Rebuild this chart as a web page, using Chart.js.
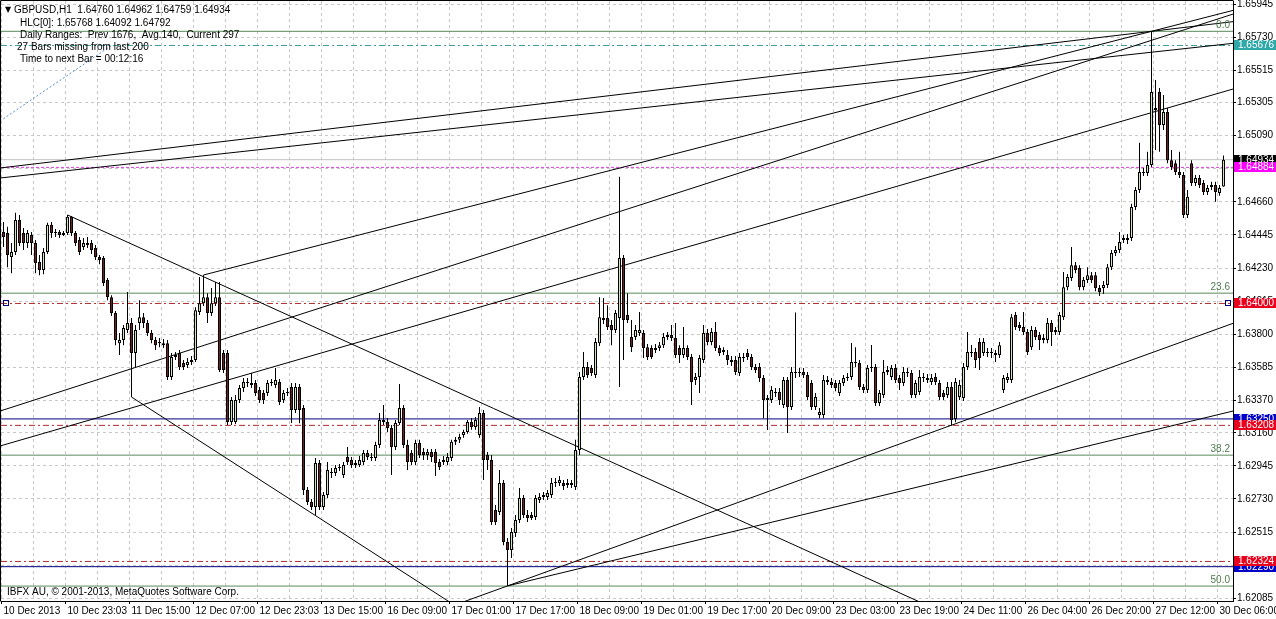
<!DOCTYPE html>
<html>
<head>
<meta charset="utf-8">
<script src="https://cdn.jsdelivr.net/npm/chart.js@4.4.0/dist/chart.umd.min.js"></script>
<style>
  html, body { margin: 0; padding: 0; background: #fff; overflow: hidden; }
  #wrap { width: 1276px; height: 619px; }
</style>
</head>
<body>
<div id="wrap"><canvas id="gbp" width="1276" height="619"></canvas></div>
<script>
// GBPUSD H1, one value per bar
const timeLabels = ["10 Dec 2013", "10 Dec 23:03", "11 Dec 15:00", "12 Dec 07:00", "12 Dec 23:03",
  "13 Dec 15:00", "16 Dec 09:00", "17 Dec 01:00", "17 Dec 17:00", "18 Dec 09:00", "19 Dec 01:00",
  "19 Dec 17:00", "20 Dec 09:00", "23 Dec 03:00", "23 Dec 19:00", "24 Dec 11:00", "26 Dec 04:00",
  "26 Dec 20:00", "27 Dec 12:00", "30 Dec 06:00"];

const opens = [
  1.64465,1.64458,1.64302,1.64334,1.64543,1.64458,1.64393,1.64445,1.64393,1.64269,
  1.64217,1.64334,1.64511,1.64458,1.64465,1.64445,1.64458,1.64563,1.64458,1.64413,
  1.64367,1.64393,1.64393,1.64360,1.64302,1.64296,1.64152,1.64041,1.63938,1.63742,
  1.63762,1.63828,1.63873,1.63678,1.63873,1.63911,1.63873,1.63808,1.63762,1.63742,
  1.63742,1.63742,1.63522,1.63652,1.63678,1.63613,1.63600,1.63619,1.63632,1.63944,
  1.64002,1.64041,1.63938,1.64002,1.64041,1.63678,1.63678,1.63230,1.63230,1.63373,
  1.63450,1.63483,1.63483,1.63483,1.63437,1.63418,1.63418,1.63490,1.63470,1.63490,
  1.63373,1.63418,1.63457,1.63308,1.63457,1.63321,1.62788,1.62710,1.62678,1.62963,
  1.62678,1.62755,1.62905,1.62899,1.62931,1.62886,1.63003,1.62983,1.62963,1.62950,
  1.62970,1.63029,1.62996,1.62996,1.63081,1.63230,1.63230,1.63191,1.63068,1.63224,
  1.63321,1.63081,1.63029,1.62970,1.63094,1.63035,1.63016,1.63035,1.63035,1.62970,
  1.62970,1.62970,1.62996,1.63101,1.63114,1.63146,1.63165,1.63230,1.63198,1.63146,
  1.63289,1.63016,1.62983,1.62658,1.62645,1.62834,1.62450,1.62398,1.62509,1.62593,
  1.62736,1.62625,1.62625,1.62612,1.62723,1.62743,1.62743,1.62755,1.62834,1.62834,
  1.62834,1.62821,1.62834,1.62808,1.63048,1.63522,1.63587,1.63580,1.63535,1.63742,
  1.63892,1.63905,1.63860,1.63828,1.63905,1.64295,1.63925,1.63782,1.63782,1.63808,
  1.63808,1.63716,1.63711,1.63698,1.63711,1.63729,1.63782,1.63795,1.63775,1.63711,
  1.63665,1.63711,1.63652,1.63503,1.63522,1.63632,1.63808,1.63749,1.63815,1.63711,
  1.63685,1.63665,1.63619,1.63632,1.63548,1.63652,1.63678,1.63652,1.63587,1.63587,
  1.63516,1.63373,1.63373,1.63424,1.63424,1.63340,1.63503,1.63327,1.63548,1.63548,
  1.63555,1.63535,1.63483,1.63327,1.63275,1.63275,1.63503,1.63490,1.63483,1.63418,
  1.63483,1.63516,1.63522,1.63619,1.63613,1.63457,1.63437,1.63580,1.63587,1.63353,
  1.63406,1.63555,1.63522,1.63580,1.63516,1.63483,1.63555,1.63548,1.63406,1.63424,
  1.63516,1.63516,1.63490,1.63522,1.63483,1.63418,1.63406,1.63457,1.63249,1.63393,
  1.63386,1.63587,1.63678,1.63685,1.63749,1.63678,1.63685,1.63685,1.63678,1.63665,
  1.63437,1.63503,1.63503,1.63925,1.63860,1.63847,1.63815,1.63716,1.63828,1.63795,
  1.63762,1.63762,1.63873,1.63815,1.63815,1.63911,1.64106,1.64165,1.64249,1.64230,
  1.64106,1.64152,1.64184,1.64184,1.64100,1.64100,1.64120,1.64236,1.64328,1.64347,
  1.64413,1.64425,1.64425,1.64627,1.64737,1.64854,1.64848,1.64900,1.65270,1.65374,
  1.65159,1.65244,1.64931,1.64911,1.64854,1.64835,1.64574,1.64911,1.64782,1.64815,
  1.64782,1.64724,1.64757,1.64770,1.64718,1.64760];

const highs = [
  1.64530,1.64498,1.64393,1.64589,1.64575,1.64491,1.64478,1.64465,1.64413,1.64315,
  1.64360,1.64524,1.64530,1.64484,1.64478,1.64471,1.64575,1.64569,1.64471,1.64432,
  1.64425,1.64432,1.64413,1.64380,1.64315,1.64309,1.64165,1.64054,1.63951,1.63808,
  1.63860,1.64074,1.63906,1.63860,1.64021,1.63938,1.63893,1.63828,1.63782,1.63775,
  1.63769,1.63762,1.63678,1.63685,1.63698,1.63632,1.63645,1.63658,1.63976,1.64172,
  1.64185,1.64067,1.64100,1.64139,1.64139,1.63698,1.63698,1.63393,1.63406,1.63470,
  1.63516,1.63516,1.63548,1.63503,1.63457,1.63437,1.63503,1.63509,1.63581,1.63509,
  1.63437,1.63450,1.63483,1.63483,1.63476,1.63341,1.62808,1.62729,1.62996,1.62983,
  1.62775,1.62970,1.62931,1.62950,1.62957,1.62970,1.63068,1.63003,1.62983,1.63009,
  1.63048,1.63048,1.63029,1.63101,1.63288,1.63341,1.63256,1.63211,1.63243,1.63476,
  1.63341,1.63114,1.63048,1.63114,1.63114,1.63061,1.63055,1.63055,1.63055,1.62989,
  1.63009,1.63029,1.63114,1.63133,1.63153,1.63179,1.63243,1.63256,1.63263,1.63328,
  1.63308,1.63035,1.63016,1.62690,1.62918,1.62853,1.62476,1.62541,1.62625,1.62801,
  1.62755,1.62658,1.62645,1.62755,1.62769,1.62775,1.62788,1.62866,1.62866,1.62879,
  1.62853,1.62860,1.62853,1.63114,1.63555,1.63685,1.63619,1.63600,1.63775,1.64041,
  1.64035,1.63989,1.63892,1.63957,1.64823,1.64315,1.64067,1.63892,1.63860,1.63944,
  1.63828,1.63736,1.63729,1.63736,1.63749,1.63808,1.63815,1.63860,1.63873,1.63729,
  1.63847,1.63729,1.63672,1.63548,1.63665,1.63860,1.63834,1.63841,1.63880,1.63729,
  1.63716,1.63698,1.63658,1.63658,1.63678,1.63678,1.63704,1.63672,1.63606,1.63613,
  1.63535,1.63406,1.63464,1.63450,1.63450,1.63522,1.63522,1.63587,1.63941,1.63581,
  1.63581,1.63555,1.63503,1.63418,1.63321,1.63535,1.63529,1.63516,1.63503,1.63503,
  1.63535,1.63548,1.63743,1.63716,1.63632,1.63476,1.63600,1.63730,1.63606,1.63437,
  1.63632,1.63593,1.63600,1.63606,1.63535,1.63587,1.63580,1.63568,1.63503,1.63568,
  1.63548,1.63542,1.63542,1.63548,1.63503,1.63437,1.63490,1.63490,1.63516,1.63503,
  1.63613,1.63815,1.63730,1.63711,1.63775,1.63775,1.63711,1.63711,1.63698,1.63749,
  1.63535,1.63548,1.63931,1.63944,1.63880,1.63944,1.63834,1.63854,1.63847,1.63815,
  1.63802,1.63905,1.63892,1.63847,1.63944,1.64204,1.64191,1.64367,1.64269,1.64249,
  1.64172,1.64236,1.64204,1.64204,1.64120,1.64146,1.64256,1.64347,1.64373,1.64465,
  1.64445,1.64452,1.64647,1.64757,1.65044,1.64880,1.64985,1.65768,1.65452,1.65400,
  1.65354,1.65270,1.64997,1.64931,1.64985,1.64854,1.64737,1.64931,1.64835,1.64835,
  1.64802,1.64770,1.64790,1.64790,1.64770,1.64962];

const lows = [
  1.64367,1.64236,1.64197,1.64315,1.64373,1.64347,1.64360,1.64315,1.64197,1.64184,
  1.64190,1.64321,1.64425,1.64432,1.64425,1.64439,1.64445,1.64439,1.64373,1.64315,
  1.64347,1.64360,1.64321,1.64282,1.64255,1.64113,1.64021,1.63918,1.63729,1.63665,
  1.63729,1.63808,1.63392,1.63587,1.63828,1.63841,1.63788,1.63742,1.63698,1.63716,
  1.63711,1.63503,1.63503,1.63632,1.63568,1.63568,1.63580,1.63600,1.63619,1.63925,
  1.63983,1.63873,1.63918,1.63983,1.63555,1.63548,1.63211,1.63211,1.63217,1.63353,
  1.63424,1.63457,1.63450,1.63399,1.63353,1.63347,1.63399,1.63464,1.63450,1.63340,
  1.63353,1.63399,1.63224,1.63289,1.63222,1.62755,1.62690,1.62658,1.62625,1.62658,
  1.62658,1.62736,1.62866,1.62879,1.62912,1.62866,1.62950,1.62931,1.62931,1.62937,
  1.62950,1.62983,1.62977,1.62977,1.63061,1.63211,1.63165,1.62886,1.63048,1.63211,
  1.63061,1.62918,1.62950,1.62950,1.62996,1.62983,1.62983,1.62970,1.62879,1.62918,
  1.62950,1.62950,1.62977,1.63081,1.63094,1.63127,1.63153,1.63179,1.63179,1.63127,
  1.62853,1.62918,1.62560,1.62560,1.62625,1.62430,1.62165,1.62346,1.62483,1.62573,
  1.62606,1.62580,1.62593,1.62593,1.62703,1.62723,1.62723,1.62736,1.62808,1.62814,
  1.62788,1.62801,1.62801,1.62788,1.63016,1.63503,1.63516,1.63529,1.63516,1.63723,
  1.63866,1.63828,1.63729,1.63808,1.63457,1.63632,1.63873,1.63685,1.63762,1.63788,
  1.63645,1.63632,1.63639,1.63678,1.63691,1.63711,1.63762,1.63756,1.63645,1.63613,
  1.63645,1.63632,1.63340,1.63470,1.63418,1.63613,1.63729,1.63729,1.63691,1.63658,
  1.63665,1.63600,1.63593,1.63535,1.63529,1.63619,1.63632,1.63568,1.63548,1.63490,
  1.63255,1.63178,1.63353,1.63393,1.63340,1.63321,1.63159,1.63308,1.63516,1.63522,
  1.63516,1.63373,1.63308,1.63308,1.63255,1.63255,1.63470,1.63450,1.63430,1.63399,
  1.63464,1.63496,1.63503,1.63587,1.63437,1.63418,1.63418,1.63555,1.63334,1.63334,
  1.63386,1.63535,1.63503,1.63483,1.63437,1.63464,1.63522,1.63386,1.63386,1.63406,
  1.63490,1.63483,1.63470,1.63470,1.63373,1.63373,1.63386,1.63209,1.63229,1.63373,
  1.63366,1.63568,1.63652,1.63580,1.63568,1.63658,1.63652,1.63645,1.63619,1.63645,
  1.63418,1.63483,1.63483,1.63828,1.63821,1.63795,1.63665,1.63698,1.63762,1.63698,
  1.63742,1.63742,1.63723,1.63795,1.63795,1.63892,1.64086,1.64146,1.64197,1.64086,
  1.64086,1.64133,1.64133,1.64080,1.64048,1.64061,1.64100,1.64217,1.64308,1.64328,
  1.64393,1.64386,1.64405,1.64608,1.64718,1.64828,1.64828,1.64887,1.64997,1.64985,
  1.65127,1.64911,1.64867,1.64835,1.64815,1.64555,1.64555,1.64763,1.64763,1.64750,
  1.64705,1.64705,1.64737,1.64660,1.64699,1.64759];

const closes = [
  1.64432,1.64315,1.64334,1.64543,1.64393,1.64393,1.64458,1.64393,1.64262,1.64217,
  1.64334,1.64511,1.64458,1.64465,1.64445,1.64458,1.64563,1.64458,1.64393,1.64334,
  1.64393,1.64380,1.64347,1.64302,1.64282,1.64133,1.64041,1.63938,1.63762,1.63762,
  1.63841,1.63873,1.63678,1.63828,1.63911,1.63873,1.63808,1.63762,1.63729,1.63749,
  1.63729,1.63522,1.63652,1.63665,1.63587,1.63587,1.63619,1.63632,1.63956,1.64002,
  1.64041,1.63938,1.64002,1.64041,1.63568,1.63568,1.63230,1.63373,1.63373,1.63450,
  1.63490,1.63490,1.63470,1.63418,1.63373,1.63373,1.63483,1.63483,1.63503,1.63360,
  1.63418,1.63424,1.63308,1.63457,1.63308,1.62788,1.62710,1.62678,1.62963,1.62678,
  1.62755,1.62918,1.62899,1.62931,1.62937,1.62950,1.62970,1.62950,1.62950,1.62983,
  1.63029,1.63003,1.63003,1.63081,1.63243,1.63243,1.63191,1.63068,1.63224,1.63321,
  1.63081,1.62970,1.62970,1.63094,1.63016,1.63016,1.63035,1.63003,1.62963,1.62937,
  1.62983,1.63003,1.63101,1.63114,1.63133,1.63165,1.63230,1.63198,1.63243,1.63289,
  1.62983,1.62983,1.62580,1.62580,1.62834,1.62450,1.62398,1.62515,1.62593,1.62736,
  1.62625,1.62606,1.62606,1.62736,1.62743,1.62755,1.62769,1.62834,1.62840,1.62853,
  1.62814,1.62834,1.62821,1.63048,1.63522,1.63587,1.63535,1.63548,1.63749,1.63911,
  1.63905,1.63847,1.63828,1.63938,1.64295,1.63892,1.63892,1.63716,1.63828,1.63828,
  1.63711,1.63652,1.63652,1.63711,1.63729,1.63782,1.63795,1.63775,1.63665,1.63665,
  1.63711,1.63652,1.63490,1.63522,1.63645,1.63808,1.63749,1.63815,1.63711,1.63678,
  1.63698,1.63632,1.63632,1.63555,1.63652,1.63645,1.63652,1.63587,1.63568,1.63516,
  1.63373,1.63386,1.63437,1.63418,1.63373,1.63503,1.63327,1.63555,1.63555,1.63555,
  1.63535,1.63393,1.63327,1.63393,1.63295,1.63503,1.63490,1.63470,1.63450,1.63483,
  1.63516,1.63522,1.63619,1.63613,1.63457,1.63437,1.63580,1.63587,1.63353,1.63418,
  1.63555,1.63568,1.63580,1.63503,1.63483,1.63555,1.63548,1.63406,1.63483,1.63522,
  1.63522,1.63503,1.63516,1.63490,1.63393,1.63393,1.63457,1.63243,1.63490,1.63470,
  1.63587,1.63685,1.63685,1.63632,1.63645,1.63749,1.63678,1.63678,1.63665,1.63729,
  1.63516,1.63522,1.63911,1.63847,1.63841,1.63815,1.63685,1.63828,1.63782,1.63762,
  1.63775,1.63873,1.63815,1.63828,1.63925,1.64106,1.64172,1.64249,1.64217,1.64106,
  1.64152,1.64184,1.64152,1.64100,1.64074,1.64120,1.64236,1.64328,1.64347,1.64399,
  1.64425,1.64413,1.64627,1.64737,1.64854,1.64848,1.64900,1.65374,1.65257,1.65159,
  1.65244,1.64931,1.64887,1.64854,1.64835,1.64574,1.64693,1.64782,1.64815,1.64770,
  1.64724,1.64750,1.64770,1.64724,1.64750,1.64934];

// price axis labels
const yTicks = [1.65945, 1.65730, 1.65515, 1.65305, 1.65090, 1.64875, 1.64660, 1.64445, 1.64230,
  1.64015, 1.63800, 1.63585, 1.63370, 1.63160, 1.62945, 1.62730, 1.62515, 1.62300, 1.62085];

// fibonacci retracement
const fibHigh = 1.65768;
const fibLow = 1.58560;
const fibLevels = [0.0, 23.6, 38.2, 50.0];

// horizontal price lines
const redLevels = [1.64000, 1.63208, 1.62324];
const blueLevels = [1.63250, 1.62290];
const tealLevel = 1.65676;
const magentaLevel = 1.64884;
const bidPrice = 1.64934;

// trend lines: [bar, price], [bar, price]
const trendLines = [
  [[-0.875, 1.64880], [287, 1.65768], true, true],
  [[-0.875, 1.64815], [307.375, 1.65690], true, true],
  [[-0.875, 1.63301], [307.375, 1.65880], true, true],
  [[-0.875, 1.63074], [307.375, 1.65393], true, true],
  [[50, 1.64185], [287, 1.65768], false, true],
  [[16, 1.64575], [228, 1.62073], false, true],
  [[32, 1.63392], [110, 1.62086], false, true],
  [[126, 1.62165], [237, 1.63209], true, true],
  [[126, 1.62165], [307.375, 1.63301], false, true]
];
const dottedLine = [[-0.875, 1.65185], [27, 1.65676]];

const infoLines = [
  "GBPUSD,H1  1.64760 1.64962 1.64759 1.64934",
  "HLC[0]: 1.65768 1.64092 1.64792",
  "Daily Ranges:  Prev 1676,  Avg.140,  Current 297",
  "27 Bars missing from last 200",
  "Time to next Bar = 00:12:16"
];

// ---------------------------------------------------------------
const FAMILY = "'Liberation Sans', Arial, sans-serif";
Chart.defaults.font.family = FAMILY;
Chart.defaults.font.size = 10;
Chart.defaults.color = "#000";

const X_MIN = -0.625, X_MAX = 307.375;
const Y_MIN = 1.62067, Y_MAX = 1.65965;
const BULL = "#d3e4bb", BEAR = "#6e1f1f";
const GRID = "#c8c8c8";

function flat(p) { return [{ x: X_MIN, y: p }, { x: X_MAX, y: p }]; }
function ray(a, b, extL, extR) {
  const k = (b[1] - a[1]) / (b[0] - a[0]);
  const x0 = extL ? X_MIN : a[0];
  const x1 = extR ? X_MAX : b[0];
  return [{ x: x0, y: a[1] + k * (x0 - a[0]) }, { x: x1, y: a[1] + k * (x1 - a[0]) }];
}
function lineSet(data, color, dash, order) {
  return { type: "line", data, borderColor: color, borderWidth: 1, borderDash: dash || [],
    pointRadius: 0, fill: false, tension: 0, order: order || 4 };
}

const fibPrice = lv => fibHigh - lv / 100 * (fibHigh - fibLow);

const datasets = [];
datasets.push(lineSet(flat(bidPrice), "#c0c0c0", [], 6));
fibLevels.forEach(lv => datasets.push(lineSet(flat(fibPrice(lv)), "#5a8a5a", [], 5)));
blueLevels.forEach(p => datasets.push(lineSet(flat(p), "#000080", [], 5)));
redLevels.forEach(p => datasets.push(lineSet(flat(p), "#b02a2a", [6, 3, 2, 3], 5)));
datasets.push(lineSet(flat(tealLevel), "#3a9c9c", [6, 3, 2, 3], 5));
datasets.push(lineSet(flat(magentaLevel), "#e040e0", [3, 2], 5));
trendLines.forEach(t => datasets.push(lineSet(ray(t[0], t[1], t[2], t[3]), "#000", [], 4)));
datasets.push(lineSet(ray(dottedLine[0], dottedLine[1], false, false), "#5b8fd0", [2, 2], 4));

const idx = opens.map((_, i) => i);
datasets.push({
  type: "bar", order: 2, grouped: false, barThickness: 1, inflateAmount: 0,
  data: idx.map(i => ({ x: i, y: [lows[i], highs[i]] })),
  backgroundColor: "#000", borderWidth: 0
});
datasets.push({
  type: "bar", order: 1, grouped: false, barThickness: 3, inflateAmount: 0, minBarLength: 1,
  data: idx.map(i => ({ x: i, y: [opens[i], closes[i]] })),
  backgroundColor: idx.map(i => closes[i] >= opens[i] ? BULL : BEAR),
  borderColor: "#000", borderWidth: 1, borderSkipped: false
});

const overlay = {
  id: "overlay",
  beforeDraw(chart) {
    const c = chart.ctx;
    c.save();
    c.fillStyle = "#fff";
    c.fillRect(0, 0, chart.width, chart.height);
    c.restore();
  },
  afterDraw(chart) {
    const { ctx, chartArea: a, scales: { y } } = chart;
    const font = "10px " + FAMILY;
    ctx.save();

    // frame
    ctx.strokeStyle = "#000";
    ctx.lineWidth = 1;
    ctx.beginPath();
    ctx.moveTo(a.left - 0.5, a.bottom + 0.5);
    ctx.lineTo(a.left - 0.5, a.top - 0.5);
    ctx.lineTo(a.right + 0.5, a.top - 0.5);
    ctx.stroke();

    // fibo level captions
    ctx.font = font;
    ctx.fillStyle = "#4e7d4e";
    ctx.textAlign = "right";
    ctx.textBaseline = "bottom";
    fibLevels.forEach(lv => {
      ctx.fillText(lv.toFixed(1), a.right - 3, y.getPixelForValue(fibPrice(lv)) - 1);
    });

    // handles on the 1.64000 line
    const hy = Math.round(y.getPixelForValue(redLevels[0]));
    ctx.strokeStyle = "#000080";
    ctx.strokeRect(3.5, hy - 2.5, 5, 5);
    ctx.strokeRect(a.right - 7.5, hy - 2.5, 5, 5);

    // price tags on the right scale
    const tag = (p, bg) => {
      const py = Math.round(y.getPixelForValue(p));
      ctx.fillStyle = bg;
      ctx.fillRect(a.right + 1, py - 5, chart.width - a.right - 1, 10);
      ctx.fillStyle = "#fff";
      ctx.textAlign = "left";
      ctx.textBaseline = "middle";
      ctx.fillText(p.toFixed(5), a.right + 5, py + 0.5);
    };
    tag(tealLevel, "#2fa8a8");
    blueLevels.forEach(p => tag(p, "#0000c8"));
    redLevels.forEach(p => tag(p, "#e8001c"));
    tag(bidPrice, "#000");
    tag(magentaLevel, "#ff00ff");

    // info block, top left
    ctx.fillStyle = "#000";
    ctx.textAlign = "left";
    ctx.textBaseline = "middle";
    ctx.font = "8px 'DejaVu Sans', sans-serif";
    ctx.fillText("\u25BC", 5, 10);
    ctx.font = font;
    const lx = [14, 20, 20, 17, 20];
    const ly = [10, 23, 35, 47, 59];
    infoLines.forEach((t, i) => ctx.fillText(t, lx[i], ly[i]));

    ctx.fillText("IBFX AU, \u00A9 2001-2013, MetaQuotes Software Corp.", 7, 592);
    ctx.restore();
  }
};

new Chart(document.getElementById("gbp"), {
  type: "bar",
  data: { datasets },
  plugins: [overlay],
  options: {
    responsive: false,
    animation: false,
    events: [],
    layout: { padding: { left: 1, top: 1, right: 0, bottom: 0 } },
    plugins: { legend: { display: false }, tooltip: { enabled: false } },
    scales: {
      x: {
        type: "linear", min: X_MIN, max: X_MAX, offset: false,
        afterBuildTicks: s => {
          const t = [];
          for (let v = -0.5; v <= X_MAX; v += 8) t.push({ value: v });
          s.ticks = t;
        },
        afterFit: s => { s.height = 18; s.paddingLeft = 0; s.paddingRight = 0; },
        grid: {
          color: GRID, offset: false, drawTicks: true, tickLength: 3,
          tickColor: c => (c.index % 2 === 0 ? "#000" : "rgba(0,0,0,0)")
        },
        border: { display: true, color: "#000", dash: [3, 3] },
        ticks: {
          autoSkip: false, maxRotation: 0, minRotation: 0, align: "start", padding: 1, labelOffset: 2,
          callback: (v, i) => (i % 2 === 0 ? (timeLabels[i / 2] || "") : "")
        }
      },
      y: {
        type: "linear", position: "right", min: Y_MIN, max: Y_MAX,
        afterBuildTicks: s => { s.ticks = yTicks.map(v => ({ value: v })); },
        afterFit: s => { s.width = 43; s.paddingTop = 0; s.paddingBottom = 0; },
        grid: { color: GRID, drawTicks: true, tickLength: 3, tickColor: "#000" },
        border: { display: true, color: "#000", dash: [3, 3] },
        ticks: { padding: 1, callback: v => Number(v).toFixed(5) }
      }
    }
  }
});
</script>
</body>
</html>
